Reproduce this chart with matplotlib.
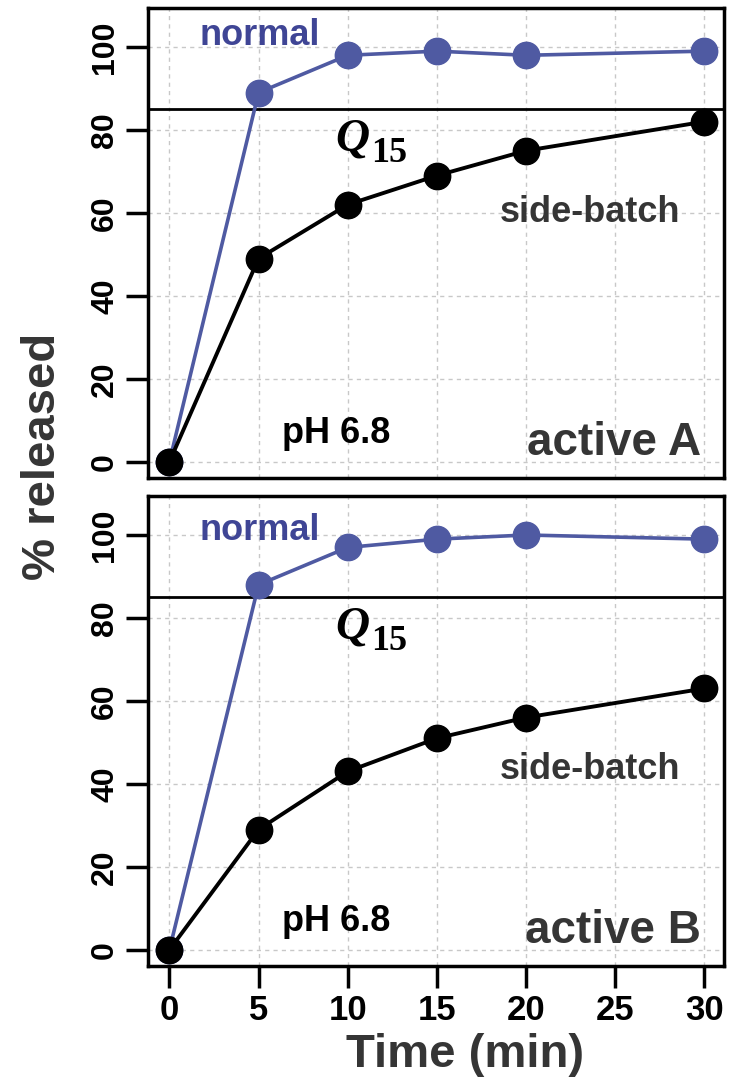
import matplotlib
matplotlib.use("Agg")
import matplotlib.pyplot as plt

plt.rcParams['font.family'] = ['Liberation Sans', 'DejaVu Sans']
plt.rcParams['font.weight'] = 'bold'

time_min = [0, 5, 10, 15, 20, 30]
normal_A = [0, 89, 98, 99, 98, 99]
side_A = [0, 49, 62, 69, 75, 82]
normal_B = [0, 88, 97, 99, 100, 99]
side_B = [0, 29, 43, 51, 56, 63]
panel_names = ["active A", "active B"]
x_ticks = [0, 5, 10, 15, 20, 25, 30]
y_ticks = [0, 20, 40, 60, 80, 100]
q_line = 85

BLUE = '#4f5aa2'
BLUE_TXT = '#3f4595'
GRAY = '#353535'

fig = plt.figure(figsize=(7.35, 10.84), dpi=100)
L, R = 148 / 735, 724 / 735
boxes = [(8, 478), (496, 966)]
panels = [(normal_A, side_A, 100.5, 57.8), (normal_B, side_B, 98.8, 41.2)]

for i, ((top, bot), (nrm, side, ny, sy)) in enumerate(zip(boxes, panels)):
    ax = fig.add_axes([L, 1 - bot / 1084, R - L, (bot - top) / 1084])
    ax.set_xlim(-1.2, 31.1)
    ax.set_ylim(-3.9, 109.4)
    ax.set_xticks(x_ticks)
    ax.set_yticks(y_ticks)
    ax.grid(True, color='#c8c8c8', linestyle=(0, (3, 3)), linewidth=1.0)
    ax.set_axisbelow(True)
    for sp in ax.spines.values():
        sp.set_linewidth(2.5)
    ax.tick_params(axis='both', width=2.5, length=16, labelsize=23, pad=4)
    ax.tick_params(axis='x', labelsize=25)
    ax.tick_params(axis='y', labelrotation=90)
    for lab in ax.get_yticklabels():
        lab.set_va('center')
    ax.axhline(q_line, color='black', lw=2.0, zorder=2)
    ax.plot(time_min, nrm, color=BLUE, lw=2.6, marker='o', ms=19, zorder=3)
    ax.plot(time_min, side, color='black', lw=2.8, marker='o', ms=19, zorder=4)
    ax.text(1.7, ny, 'normal', color=BLUE_TXT, fontsize=26, fontweight='bold',
            ha='left', va='baseline')
    ax.text(9.3, 75.0, 'Q', fontsize=34, color='black', ha='left', va='baseline',
            family='Liberation Serif', fontweight='bold', fontstyle='italic')
    ax.text(11.3, 72.3, '15', fontsize=26, color='black', ha='left', va='baseline',
            family='Liberation Serif', fontweight='bold')
    ax.text(18.5, sy, 'side-batch', color=GRAY, fontsize=26, fontweight='bold',
            ha='left', va='baseline')
    ax.text(6.3, 4.6, 'pH 6.8', color='black', fontsize=26, fontweight='bold',
            ha='left', va='baseline')
    ax.text(29.8, 1.6, panel_names[i], color=GRAY, fontsize=33, fontweight='bold',
            ha='right', va='baseline')
    if i == 0:
        ax.tick_params(axis='x', bottom=False, labelbottom=False)

fig.text(0.633, 0.027, 'Time (min)', fontsize=34, fontweight='bold', color=GRAY,
         ha='center', va='center')
fig.text(0.0585, 0.579, '% released', fontsize=34, fontweight='bold', color=GRAY,
         ha='center', va='center', rotation=90)

fig.savefig('out.png', dpi=100)
